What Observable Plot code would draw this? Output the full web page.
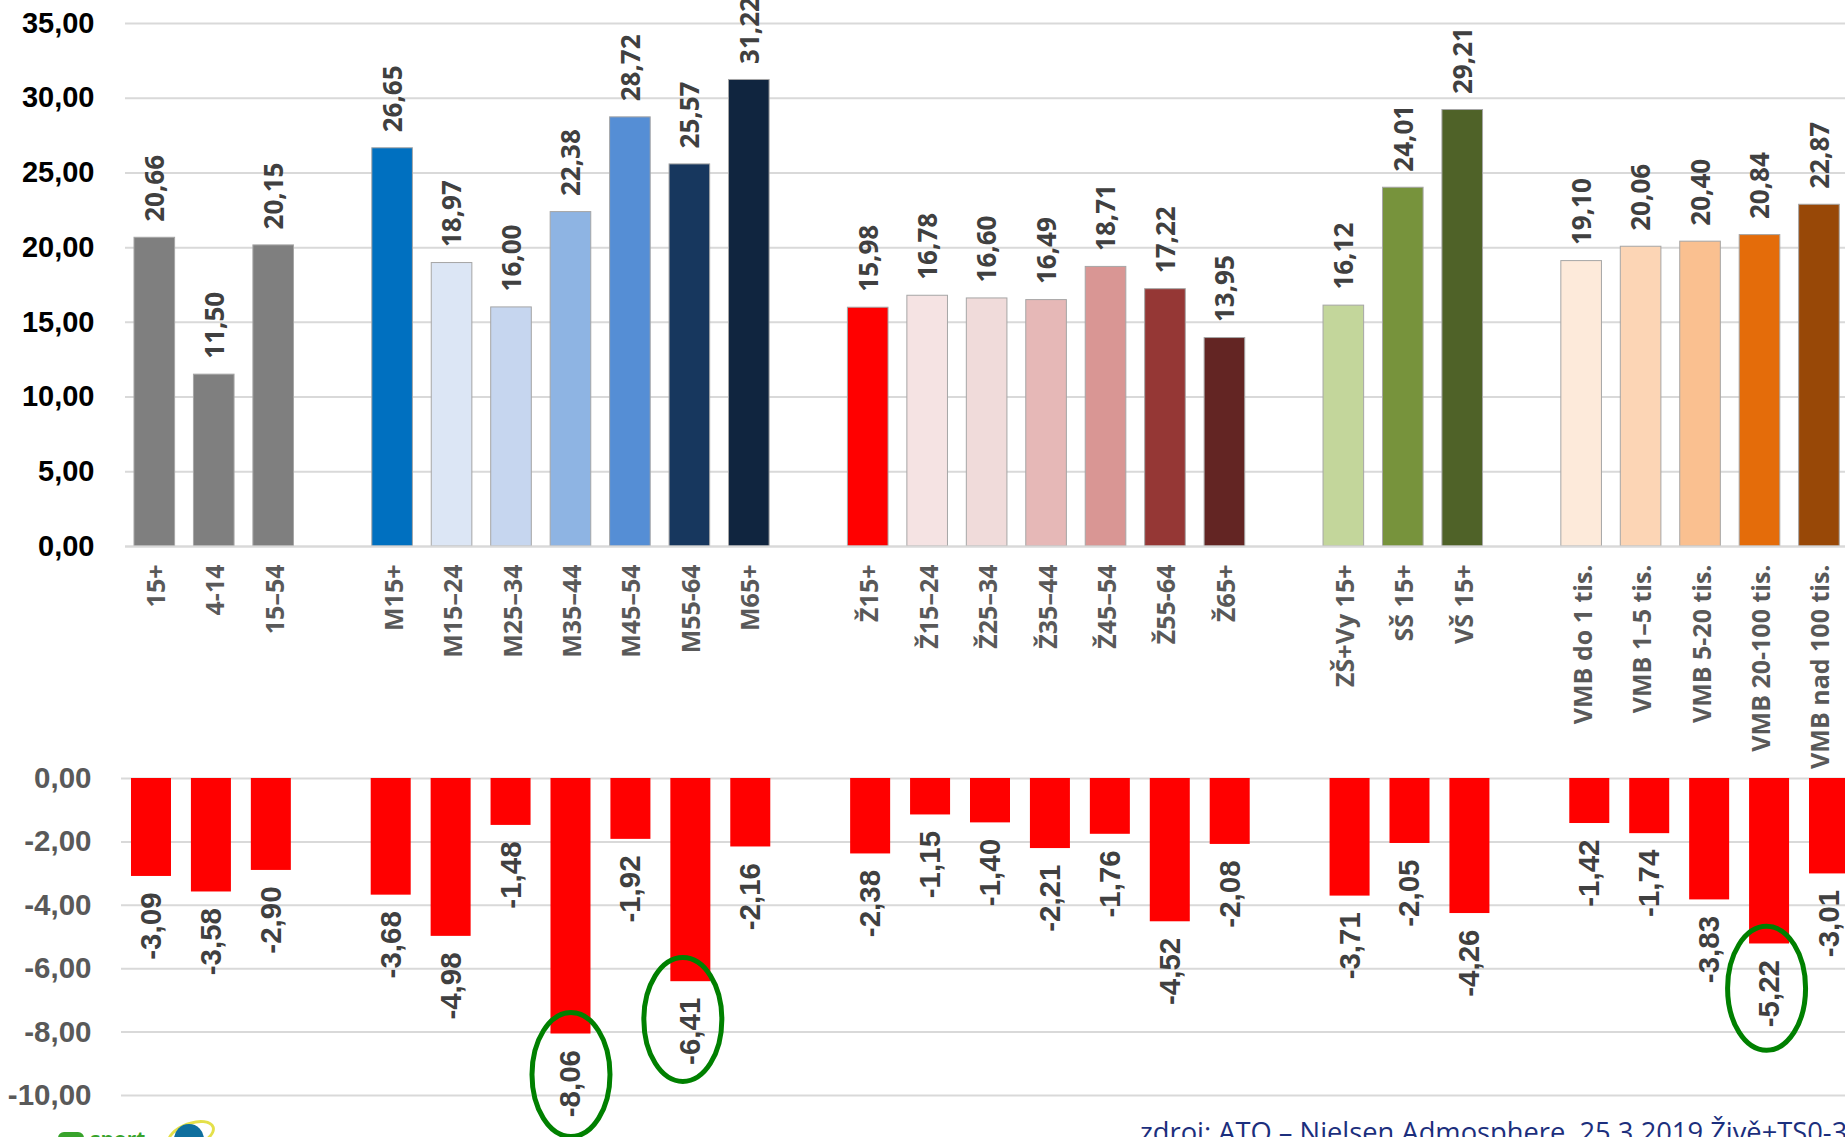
<!DOCTYPE html>
<html><head><meta charset="utf-8">
<script src="https://cdn.jsdelivr.net/npm/d3@7"></script>
<script src="https://cdn.jsdelivr.net/npm/@observablehq/plot@0.6"></script>
<style>
html,body{margin:0;padding:0;background:#fff;overflow:hidden;width:1845px;height:1137px;position:relative}
#top,#bottom,.abs{position:absolute}
#top{left:0;top:0}
#bottom{left:0;top:640px}
svg{display:block;background:transparent}
#caption{left:1140px;top:1113px;font:27.3px "Open Sans";color:#1c2f7d;white-space:nowrap}
#sport{left:90px;top:1125px;font:bold 21px "Open Sans";color:#37a32b}
#icon{left:58px;top:1132px;width:26px;height:12px;border:5px solid #37a32b;border-radius:8px;box-sizing:border-box}
#globe{left:174px;top:1124px;width:30px;height:30px;border-radius:50%;background:#0f6f9e}
#ring{left:166px;top:1122px;width:50px;height:26px;border-radius:50%;border:3px solid #e4e04a;box-sizing:border-box;transform:rotate(-20deg)}
</style></head><body>
<div id="top"></div><div id="bottom"></div>
<div class="abs" id="ring"></div><div class="abs" id="globe"></div>
<div class="abs" id="icon"></div><div class="abs" id="sport">sport</div>
<div class="abs" id="caption">zdroj: ATO – Nielsen Admosphere, 25.3.2019 Živě+TS0-3</div>
<script>
const groupAll = ["15+","4-14","15–54"];
const groupMen = ["M15+","M15–24","M25–34","M35–44","M45–54","M55-64","M65+"];
const groupWomen = ["Ž15+","Ž15–24","Ž25–34","Ž35–44","Ž45–54","Ž55-64","Ž65+"];
const groupEducation = ["ZŠ+Vy 15+","SŠ 15+","VŠ 15+"];
const groupTown = ["VMB do 1 tis.","VMB 1–5 tis.","VMB 5-20 tis.","VMB 20-100 tis.","VMB nad 100 tis."];

const categories = [...groupAll,...groupMen,...groupWomen,...groupEducation,...groupTown];
const slots = [...groupAll," ",...groupMen,"  ",...groupWomen,"   ",...groupEducation,"    ",...groupTown];

const upValues = [20.66,11.50,20.15, 26.65,18.97,16.00,22.38,28.72,25.57,31.22, 15.98,16.78,16.60,16.49,18.71,17.22,13.95, 16.12,24.01,29.21, 19.10,20.06,20.40,20.84,22.87];
const downValues = [-3.09,-3.58,-2.90, -3.68,-4.98,-1.48,-8.06,-1.92,-6.41,-2.16, -2.38,-1.15,-1.40,-2.21,-1.76,-4.52,-2.08, -3.71,-2.05,-4.26, -1.42,-1.74,-3.83,-5.22,-3.01];
const colors = ["#7f7f7f","#7f7f7f","#7f7f7f",
 "#0070c0","#dce6f5","#c6d6ef","#8eb4e3","#558ed5","#17375e","#10253f",
 "#ff0000","#f5e3e3","#f0dbda","#e6b8b7","#d99694","#953735","#632523",
 "#c3d69b","#77933c","#4f6228",
 "#fdeada","#fcd5b5","#fac090","#e46c0a","#984807"];
const upTicks = [0,5,10,15,20,25,30,35];
const downTicks = [0,-2,-4,-6,-8,-10];
const circled = ["M35–44","M55-64","VMB 20-100 tis."];
const circleCentres = [-9.34,-7.6,-6.62];
const circleShift = [0,-8,-3];

const comma = d => d.toFixed(2).replace(".",",");
const up = categories.map((k,i)=>({k,v:upValues[i],c:colors[i]}));
const down = categories.map((k,i)=>({k,v:downValues[i]}));

const ellipse = {draw(ctx){
  const rx=39, ry=62, a=rx*0.5523, b=ry*0.5523;
  ctx.moveTo(-rx,0);
  ctx.bezierCurveTo(-rx,-b,-a,-ry,0,-ry);
  ctx.bezierCurveTo(a,-ry,rx,-b,rx,0);
  ctx.bezierCurveTo(rx,b,a,ry,0,ry);
  ctx.bezierCurveTo(-a,ry,-rx,b,-rx,0);
  ctx.closePath();
}};

const topPlot = Plot.plot({
  width:1845,height:640,marginLeft:125,marginRight:0,marginTop:0,marginBottom:0,
  style:{background:"transparent",overflow:"visible"},
  x:{domain:slots,round:false,paddingInner:0.317,paddingOuter:0.124,align:0.61,axis:null},
  y:{domain:[0,35],range:[546,23],axis:null},
  color:{domain:categories,range:colors},
  marks:[
    Plot.gridY(upTicks,{stroke:"#d9d9d9",strokeWidth:2,strokeOpacity:1}),
    Plot.axisY({ticks:upTicks,tickFormat:comma,tickSize:0,tickPadding:31,label:null,fontSize:29,fontFamily:"'Liberation Sans'",fontWeight:"bold",fill:"#000"}),
    Plot.barY(up,{x:"k",y:"v",fill:"k",stroke:"#a6a6a6",strokeWidth:1}),
    Plot.ruleY([0],{stroke:"#d9d9d9",strokeWidth:2}),
    Plot.text(up,{x:"k",y:"v",text:d=>comma(d.v),rotate:-90,textAnchor:"start",dx:1,dy:-16,fontSize:26,fill:"#404040",fontFamily:"'Open Sans'",fontWeight:"bold"}),
    Plot.text(categories,{x:d=>d,y:0,text:d=>d,rotate:-90,textAnchor:"end",dx:2,dy:18,fontSize:25,fill:"#595959",fontFamily:"'Open Sans'",fontWeight:"bold"})
  ]
});
document.getElementById("top").append(topPlot);

const bottomPlot = Plot.plot({
  width:1845,height:497,marginLeft:121,marginRight:0,marginTop:0,marginBottom:0,
  style:{background:"transparent",overflow:"visible"},
  x:{domain:slots,range:[121,1860],round:false,paddingInner:0.3325,paddingOuter:0.175,align:0.476,axis:null},
  y:{domain:[0,-10],range:[138,455],axis:null},
  marks:[
    Plot.gridY(downTicks,{stroke:"#d9d9d9",strokeWidth:2,strokeOpacity:1}),
    Plot.axisY({ticks:downTicks,tickFormat:comma,tickSize:0,tickPadding:30,label:null,fontSize:29.5,fontFamily:"'Liberation Sans'",fontWeight:"bold",fill:"#595959"}),
    Plot.barY(down,{x:"k",y:"v",fill:"#ff0000"}),
    Plot.text(down,{x:"k",y:"v",text:d=>comma(d.v),rotate:-90,textAnchor:"end",dy:16,fontSize:29.5,fill:"#404040",fontFamily:"'Liberation Sans'",fontWeight:"bold"}),
    ...circled.map((k,i)=>Plot.dot([k],{x:d=>d,y:()=>circleCentres[i],dx:circleShift[i],symbol:ellipse,fill:"none",stroke:"#008000",strokeWidth:5}))
  ]
});
document.getElementById("bottom").append(bottomPlot);
</script>
</body></html>
